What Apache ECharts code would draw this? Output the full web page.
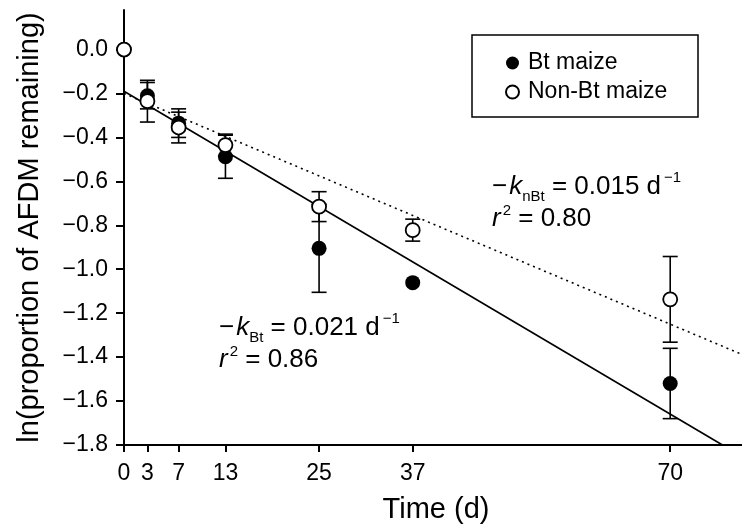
<!DOCTYPE html>
<html>
<head>
<meta charset="utf-8">
<script src="https://cdn.jsdelivr.net/npm/echarts@6/dist/echarts.min.js"></script>
<style>
  html, body { margin: 0; padding: 0; background: #fff; }
  #chart { width: 742px; height: 529px; }
</style>
</head>
<body>
<div id="chart"></div>
<script>
// ---- data ----
const days = [0, 3, 7, 13, 25, 37, 70];
const btMean = [0, -0.21, -0.335, -0.488, -0.905, -1.061, -1.52];
const btErr = [0, 0.06, 0.065, 0.098, 0.2, 0, 0.16];
const nonBtMean = [0, -0.235, -0.355, -0.435, -0.715, -0.822, -1.137];
const nonBtErr = [0, 0.095, 0.07, 0.05, 0.068, 0.05, 0.195];
const btFit = [[0, -0.19], [76.7, -1.8]];
const nonBtFit = [[0, -0.2], [79.2, -1.388]];
const xTicks = [0, 3, 7, 13, 25, 37, 70];
const yTicks = [-1.8, -1.6, -1.4, -1.2, -1.0, -0.8, -0.6, -0.4, -0.2, 0.0];
const seriesNames = ['Bt maize', 'Non-Bt maize'];

const FONT = 'Liberation Sans, Arial, Helvetica, sans-serif';

function pts(xs, ys) { return xs.map((x, i) => [x, ys[i]]); }
function errData(xs, ys, es) { return xs.map((x, i) => [x, ys[i] - es[i], ys[i] + es[i], es[i]]); }

function errRender(params, api) {
  const e = api.value(3);
  if (!e) return null;
  const lo = api.coord([api.value(0), api.value(1)]);
  const hi = api.coord([api.value(0), api.value(2)]);
  const hw = 7.5;
  const st = { stroke: '#000', lineWidth: 1.6, fill: null };
  return {
    type: 'group',
    children: [
      { type: 'line', shape: { x1: lo[0], y1: lo[1], x2: hi[0], y2: hi[1] }, style: st },
      { type: 'line', shape: { x1: lo[0] - hw, y1: lo[1], x2: lo[0] + hw, y2: lo[1] }, style: st },
      { type: 'line', shape: { x1: hi[0] - hw, y1: hi[1], x2: hi[0] + hw, y2: hi[1] }, style: st }
    ]
  };
}

function annot(x, y, sub, val) {
  return {
    type: 'text', x: x, y: y, z: 10,
    style: {
      text: '{m|\u2212}{k|k}{s|' + sub + '}{m| = ' + val + ' d}{p|\u22121}',
      verticalAlign: 'middle', align: 'left', fill: '#000',
      rich: {
        m: { fontSize: 26, lineHeight: 34, fontFamily: FONT, fill: '#000' },
        k: { fontSize: 26, lineHeight: 34, fontFamily: FONT, fontStyle: 'italic', fill: '#000', padding: [0, 0, 0, 2] },
        s: { fontSize: 15, lineHeight: 15, fontFamily: FONT, verticalAlign: 'bottom', fill: '#000' },
        p: { fontSize: 15, lineHeight: 22, fontFamily: FONT, verticalAlign: 'top', fill: '#000', padding: [0, 0, 0, 3] }
      }
    }
  };
}
function annotR(x, y, val) {
  return {
    type: 'text', x: x, y: y, z: 10,
    style: {
      text: '{r|r}{p|2}{m| = ' + val + '}',
      verticalAlign: 'middle', align: 'left', fill: '#000',
      rich: {
        m: { fontSize: 26, lineHeight: 32, fontFamily: FONT, fill: '#000' },
        r: { fontSize: 26, lineHeight: 32, fontFamily: FONT, fontStyle: 'italic', fill: '#000' },
        p: { fontSize: 15, lineHeight: 22, fontFamily: FONT, verticalAlign: 'top', fill: '#000', padding: [0, 0, 0, 2] }
      }
    }
  };
}

const chart = echarts.init(document.getElementById('chart'), null, { renderer: 'canvas' });

const option = {
  animation: false,
  backgroundColor: '#fff',
  textStyle: { fontFamily: FONT },
  grid: { left: 124, right: 0, top: 10, bottom: 84, containLabel: false },
  xAxis: {
    type: 'value', min: 0, max: 79.2,
    name: 'Time (d)', nameLocation: 'middle', nameGap: 50,
    nameTextStyle: { fontSize: 29, color: '#000', fontFamily: FONT, padding: [0, 0, 0, 6] },
    axisLine: { show: true, onZero: false, lineStyle: { color: '#000', width: 2 } },
    axisTick: { show: true, customValues: xTicks, length: 7, lineStyle: { color: '#000', width: 2 } },
    axisLabel: { customValues: xTicks, margin: 17, fontSize: 23, color: '#000', fontFamily: FONT },
    splitLine: { show: false }
  },
  yAxis: {
    type: 'value', min: -1.8, max: 0.18, interval: 0.2,
    name: 'ln(proportion of AFDM remaining)', nameLocation: 'middle', nameGap: 80, nameRotate: 90,
    nameTextStyle: { fontSize: 29, color: '#000', fontFamily: FONT },
    axisLine: { show: true, onZero: false, lineStyle: { color: '#000', width: 2 } },
    axisTick: { show: true, customValues: yTicks, length: 8, lineStyle: { color: '#000', width: 2 } },
    axisLabel: {
      customValues: yTicks, margin: 16, fontSize: 23, color: '#000', fontFamily: FONT,
      formatter: v => (Math.abs(v) < 1e-9 ? '0.0' : (v < 0 ? '\u2212' : '') + Math.abs(v).toFixed(1))
    },
    splitLine: { show: false }
  },
  legend: {
    data: seriesNames,
    orient: 'vertical', left: 505, top: 51, padding: 0,
    itemWidth: 13, itemHeight: 13, itemGap: 5,
    textStyle: { fontSize: 23, color: '#000', fontFamily: FONT, lineHeight: 24, padding: [0, 0, 0, 4] },
    selectedMode: false
  },
  graphic: [
    { type: 'rect', shape: { x: 472, y: 35, width: 226, height: 82 }, style: { stroke: '#000', lineWidth: 1.5, fill: null }, z: 10 },
    annot(219, 328, 'Bt', '0.021'),
    annotR(219, 360, '0.86'),
    annot(492, 187, 'nBt', '0.015'),
    annotR(492, 219, '0.80')
  ],
  series: [
    {
      name: 'Bt fit', type: 'line', data: btFit, symbol: 'none', z: 1,
      lineStyle: { color: '#000', width: 1.6, type: 'solid' }, silent: true
    },
    {
      name: 'Non-Bt fit', type: 'line', data: nonBtFit, symbol: 'none', z: 1,
      lineStyle: { color: '#000', width: 1.6, type: [2, 4] }, silent: true
    },
    {
      name: 'Bt err', type: 'custom', renderItem: errRender, z: 2,
      data: errData(days, btMean, btErr), encode: { x: 0, y: [1, 2] }, silent: true
    },
    {
      name: seriesNames[0], type: 'scatter', data: pts(days, btMean), z: 3,
      symbol: 'circle', symbolSize: 15,
      itemStyle: { color: '#000', borderColor: '#000', borderWidth: 0, opacity: 1 }
    },
    {
      name: 'Non-Bt err', type: 'custom', renderItem: errRender, z: 4,
      data: errData(days, nonBtMean, nonBtErr), encode: { x: 0, y: [1, 2] }, silent: true
    },
    {
      name: seriesNames[1], type: 'scatter', data: pts(days, nonBtMean), z: 5,
      symbol: 'circle', symbolSize: 14,
      itemStyle: { color: '#fff', borderColor: '#000', borderWidth: 1.8, opacity: 1 }
    }
  ]
};

chart.setOption(option);
</script>
</body>
</html>
